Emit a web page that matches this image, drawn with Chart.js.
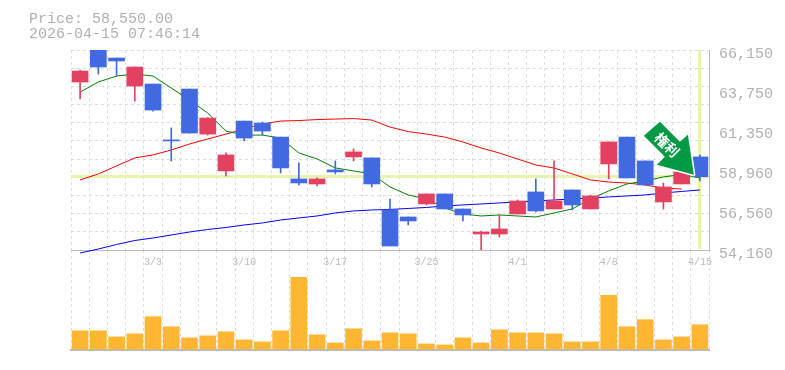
<!DOCTYPE html>
<html>
<head>
<meta charset="utf-8">
<script src="https://cdn.jsdelivr.net/npm/chart.js@4"></script>
<style>
  body { margin:0; background:#fff; width:785px; height:370px; overflow:hidden; position:relative; }
  canvas { position:absolute; left:0; }
  #head { position:absolute; left:29px; top:12px; font:15px/15px "Liberation Mono", monospace; color:#b0b0b0; white-space:pre; }
</style>
</head>
<body>
<canvas id="volChart" width="785" height="105" style="top:250px"></canvas>
<canvas id="priceChart" width="785" height="270" style="top:0"></canvas>
<div id="head">Price: 58,550.00
2026-04-15 07:46:14</div>
<script>
const dates = ['2/25','2/26','2/27','3/2','3/3','3/4','3/5','3/6','3/9','3/10','3/11','3/12','3/13','3/16','3/17','3/18','3/19','3/23','3/24','3/25','3/26','3/27','3/30','3/31','4/1','4/2','4/3','4/6','4/7','4/8','4/9','4/10','4/13','4/14','4/15'];
const shownDates = ['3/3','3/10','3/17','3/25','4/1','4/8','4/15'];

const opens  = [64230,66500,65670,63990,64110,60760,63810,61110,58900,61890,61770,60930,58420,58120,58960,59740,59680,56560,56140,56920,57520,56620,55120,55120,56320,57640,56620,57760,56620,59320,60930,59500,57040,58120,59740];
const closes = [64890,65130,65490,65130,62550,60700,61170,62070,59860,60870,61290,59080,58180,58420,58840,60040,58120,54400,55900,57520,56620,56260,55240,55420,57100,56500,57100,56860,57400,60640,58480,58060,57940,58840,58550];
const highs  = [64950,66500,65670,65130,64110,61480,63810,62100,59980,61890,61830,60930,59380,58480,59500,60215,59680,57220,56140,57520,57520,56620,55300,56260,57160,58420,59500,57760,57460,60640,60930,59500,58180,58900,59860];
const lows   = [63210,64710,64590,63090,62490,59500,61170,61050,58600,60700,61050,58780,58060,58000,58720,59500,57940,54400,55660,56860,56620,55900,54100,54940,56320,56440,56620,56560,56620,58420,58480,58060,56620,58120,58300];

const maShort = [63630,64230,64590,64710,64590,63870,63150,62370,61290,61050,61050,60870,59980,59620,59080,58900,58720,57940,57460,57220,56680,56320,56200,56260,56200,56140,56380,56620,57220,57700,58120,58300,58540,58690,58480];
const maMid   = [58360,58720,59200,59680,59860,60155,60515,60815,61110,61415,61715,61890,61920,61980,62010,62040,61950,61530,61260,61110,60930,60635,60275,59975,59615,59255,59075,58720,58360,58235,58175,58055,57875,57815,null];
const maLong  = [53980,54220,54490,54730,54880,55060,55240,55390,55510,55660,55780,55960,56080,56200,56380,56500,56560,56590,56650,56710,56800,56860,56920,56980,57040,57100,57160,57220,57280,57340,57400,57460,57580,57670,57760];

const volumes = [1800,1800,1200,1500,3200,2200,1100,1300,1700,900,700,1800,7100,1400,600,2000,800,1600,1500,500,400,1100,600,1900,1600,1600,1500,700,700,5300,2200,2900,900,1200,2400];

const priceLabels = [66150,63750,61350,58960,56560,54160];
const priceGrid = [66150,65060,63960,62880,61790,60700,59610,58510,57430,56340,55250,54160];
const lastPrice = 58550;

const UP = '#e24260', DOWN = '#4169e1', LIME = '#e5f5ae', GRID = '#dddddd', AXIS = '#bbbbbb';
const candleColors = opens.map((o, i) => closes[i] >= o ? UP : DOWN);

const markerPlugin = {
  id: 'marker',
  beforeDatasetsDraw(chart) {
    const { ctx, chartArea: a, scales } = chart;
    const y = Math.round(scales.yLabels.getPixelForValue(lastPrice));
    const x = Math.round(scales.x.getPixelForValue(dates.length - 1));
    ctx.save();
    ctx.fillStyle = LIME;
    ctx.fillRect(a.left, y - 2, a.right - a.left, 3);
    ctx.fillRect(x - 2, a.top, 3, a.bottom - a.top - 1);
    ctx.restore();
  },
  afterDatasetsDraw(chart) {
    const { ctx, scales } = chart;
    const tipX = scales.x.getPixelForValue(dates.length - 1) - 6;
    const tipY = scales.yLabels.getPixelForValue(lastPrice) - 2;
    ctx.save();
    ctx.translate(tipX, tipY);
    ctx.beginPath();
    ctx.moveTo(-34, -53);
    ctx.lineTo(-50, -39);
    ctx.lineTo(-29, -18);
    ctx.lineTo(-37, -10);
    ctx.lineTo(0, 0);
    ctx.lineTo(-6, -40);
    ctx.lineTo(-14, -33);
    ctx.closePath();
    ctx.lineJoin = 'round';
    ctx.lineWidth = 3;
    ctx.strokeStyle = '#fff';
    ctx.stroke();
    ctx.fillStyle = '#009944';
    ctx.fill();
    ctx.translate(-27, -30);
    ctx.rotate(Math.PI / 4);
    ctx.fillStyle = '#fff';
    ctx.font = 'bold 14px "Noto Sans CJK JP"';
    ctx.textAlign = 'center';
    ctx.textBaseline = 'middle';
    ctx.fillText('権利', 0, 0);
    ctx.restore();
  }
};

new Chart(document.getElementById('priceChart'), {
  data: {
    labels: dates,
    datasets: [
      { type:'line', data: maShort, borderColor:'#008000', borderWidth:1, pointRadius:0, order:3 },
      { type:'line', data: maMid, borderColor:'#ff0000', borderWidth:1, pointRadius:0, order:3 },
      { type:'line', data: maLong, borderColor:'#0000ff', borderWidth:1, pointRadius:0, order:3, clip:false },
      { type:'bar', data: lows.map((l, i) => [l, highs[i]]), backgroundColor: candleColors, barThickness:1, grouped:false, order:2 },
      { type:'bar', data: opens.map((o, i) => [o, closes[i]]), backgroundColor: candleColors, barThickness:16, grouped:false, order:1 }
    ]
  },
  options: {
    responsive:false,
    animation:false,
    layout: { padding: { top:50, left:71 } },
    plugins: { legend:{ display:false }, tooltip:{ enabled:false } },
    scales: {
      x: {
        grid: { color:GRID, drawTicks:false, offset:true },
        border: { color:AXIS, dash:[3,3] },
        afterFit(s) { s.height = 20; },
        ticks: {
          autoSkip:false, maxRotation:0, padding:6, color:AXIS,
          font: { family:'"Liberation Mono", monospace', size:10 },
          callback(v) { const d = dates[v]; return shownDates.includes(d) ? d : ''; }
        }
      },
      y: {
        position:'left', min:54160, max:66150,
        grid: { color:GRID, drawTicks:false },
        border: { display:false, dash:[3,3] },
        ticks: { display:false },
        afterBuildTicks(s) { s.ticks = priceGrid.map(value => ({ value })); }
      },
      yLabels: {
        position:'right', min:54160, max:66150,
        grid: { display:false, drawTicks:false },
        border: { color:AXIS },
        afterFit(s) { s.width = 76; },
        afterBuildTicks(s) { s.ticks = priceLabels.map(value => ({ value })); },
        ticks: {
          padding:10, color:'#b0b0b0',
          // blank first line pushes the label 4px under its tick, like the original
          font: { family:'"Liberation Mono", monospace', size:15, lineHeight:'8px' },
          callback: v => ['', v.toLocaleString('en-US')]
        }
      }
    }
  },
  plugins: [markerPlugin]
});

new Chart(document.getElementById('volChart'), {
  type:'bar',
  data: { labels: dates, datasets: [{ data: volumes, backgroundColor:'#ffb733', barThickness:16 }] },
  options: {
    responsive:false,
    animation:false,
    layout: { padding: { left:71, right:76, bottom:5 } },
    plugins: { legend:{ display:false }, tooltip:{ enabled:false } },
    scales: {
      x: {
        grid: { color:GRID, drawTicks:false, offset:true },
        border: { color:AXIS, width:2, dash:[3,3] },
        ticks: { display:false, autoSkip:false }
      },
      y: { display:false, min:-100, max:9800 }
    }
  }
});
</script>
</body>
</html>
